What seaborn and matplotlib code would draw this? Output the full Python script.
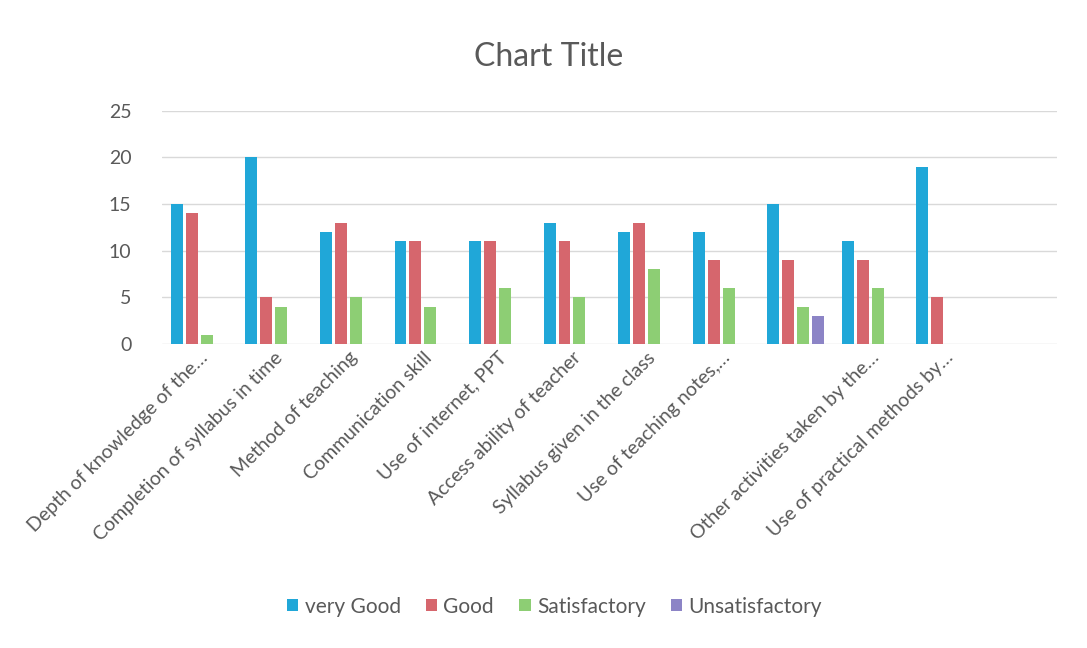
import matplotlib
matplotlib.use("Agg")
import matplotlib.pyplot as plt
import seaborn as sns
import pandas as pd

# categories (two have no label in the original chart)
categories = [
    "Depth of knowledge of the…",
    "Completion of syllabus in time",
    "Method of teaching",
    "Communication skill",
    "Use of internet, PPT",
    "Access ability of teacher",
    "Syllabus given in the class",
    "Use of teaching notes,…",
    " ",
    "Other activities taken by the…",
    "Use of practical methods by…",
    "  ",
]
series = ["very Good", "Good", "Satisfactory", "Unsatisfactory"]

very_good = [15, 20, 12, 11, 11, 13, 12, 12, 15, 11, 19, 0]
good = [14, 5, 13, 11, 11, 11, 13, 9, 9, 9, 5, 0]
satisfactory = [1, 4, 5, 4, 6, 5, 8, 6, 4, 6, 0, 0]
unsatisfactory = [0, 0, 0, 0, 0, 0, 0, 0, 3, 0, 0, 0]

colors = ["#20A7D8", "#D6666D", "#8DCE74", "#8C84C6"]

rows = []
for name, vals in zip(series, [very_good, good, satisfactory, unsatisfactory]):
    for cat, v in zip(categories, vals):
        rows.append({"category": cat, "rating": name, "count": v})
df = pd.DataFrame(rows)

sns.set_style("white")
plt.rcParams["font.family"] = ["Lato", "DejaVu Sans"]

fig = plt.figure(figsize=(10.87, 6.48), dpi=100)
ax = fig.add_axes([0.149, 0.469, 0.823, 0.36])

sns.barplot(
    data=df, x="category", y="count", hue="rating",
    order=categories, hue_order=series, palette=colors, saturation=1,
    width=0.8, gap=0.2, linewidth=0, ax=ax,
)

ax.set_ylim(0, 25)
ax.set_yticks([0, 5, 10, 15, 20, 25])
ax.set_xlim(-0.5, len(categories) - 0.5)
ax.yaxis.grid(True, color="#D9D9D9", linewidth=1)
ax.set_axisbelow(True)
for s in ax.spines.values():
    s.set_visible(False)

ax.set_xlabel("")
ax.set_ylabel("")
ax.tick_params(axis="both", length=0, colors="#595959", labelsize=14)
ax.tick_params(axis="y", pad=22)
ax.set_xticks(range(len(categories)))
ax.set_xticklabels(categories, rotation=45, ha="right", rotation_mode="anchor")

fig.suptitle("Chart Title", x=0.505, y=0.935, fontsize=23, color="#595959")

ax.get_legend().remove()
handles, labels = ax.get_legend_handles_labels()
fig.legend(
    handles, labels, loc="center", bbox_to_anchor=(0.51, 0.064), ncol=4,
    frameon=False, fontsize=15, handlelength=0.55, handleheight=0.55,
    handletextpad=0.3, columnspacing=1.2, labelcolor="#595959",
)

fig.savefig("out.png", dpi=100, facecolor="white")
